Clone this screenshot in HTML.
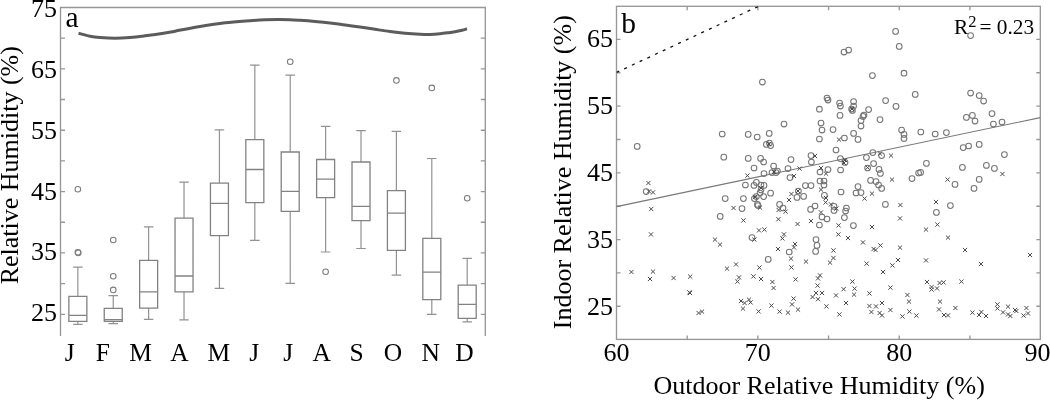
<!DOCTYPE html>
<html lang="en"><head><meta charset="utf-8"><title>Relative humidity figure</title>
<style>
html,body{margin:0;padding:0;background:#fff;}
body{width:1050px;height:401px;overflow:hidden;}
svg{display:block;font-family:"Liberation Serif", "Times New Roman", serif;fill:#000;}
</style></head><body>
<svg width="1050" height="401" viewBox="0 0 1050 401">
<rect width="1050" height="401" fill="#fff" stroke="none"/>
<g fill="none" stroke="#979797" stroke-width="1.35">
<path d="M60.5,336.0 V7.5 H485.3 V336.0"/>
<path d="M60.5,314.30h4.5M485.3,314.30h-4.5M60.5,283.62h4.5M485.3,283.62h-4.5M60.5,252.94h4.5M485.3,252.94h-4.5M60.5,222.26h4.5M485.3,222.26h-4.5M60.5,191.58h4.5M485.3,191.58h-4.5M60.5,160.90h4.5M485.3,160.90h-4.5M60.5,130.22h4.5M485.3,130.22h-4.5M60.5,99.54h4.5M485.3,99.54h-4.5M60.5,68.86h4.5M485.3,68.86h-4.5M60.5,38.18h4.5M485.3,38.18h-4.5"/>
</g>
<g font-size="26" text-anchor="end" fill="#000">
<text x="57" y="321.10">25</text>
<text x="57" y="260.36">35</text>
<text x="57" y="199.62">45</text>
<text x="57" y="138.88">55</text>
<text x="57" y="78.14">65</text>
<text x="57" y="17.40">75</text>
</g>
<text font-size="26" text-anchor="middle" transform="translate(18.3,165.2) rotate(-90)">Relative Humidity (%)</text>
<text font-size="29.5" x="65.6" y="26.5">a</text>
<g font-size="25.5" text-anchor="middle">
<text x="69.8" y="361">J</text>
<text x="102.8" y="361">F</text>
<text x="140.6" y="361">M</text>
<text x="179.5" y="361">A</text>
<text x="218.8" y="361">M</text>
<text x="254.2" y="361">J</text>
<text x="288.3" y="361">J</text>
<text x="321.8" y="361">A</text>
<text x="356.5" y="361">S</text>
<text x="392.9" y="361">O</text>
<text x="430.6" y="361">N</text>
<text x="464.5" y="361">D</text>
</g>
<path d="M78.5,33.2C80.42,33.70 86.42,35.48 90,36.2C93.58,36.92 95.83,37.17 100,37.5C104.17,37.83 110.00,38.20 115,38.2C120.00,38.20 125.00,37.90 130,37.5C135.00,37.10 139.17,36.55 145,35.8C150.83,35.05 160.00,33.77 165,33.0C170.00,32.23 169.17,32.28 175,31.2C180.83,30.12 191.67,27.90 200,26.5C208.33,25.10 216.67,23.77 225,22.8C233.33,21.83 243.33,21.20 250,20.7C256.67,20.20 260.33,20.00 265,19.8C269.67,19.60 273.83,19.52 278,19.5C282.17,19.48 286.33,19.57 290,19.7C293.67,19.83 295.83,20.00 300,20.3C304.17,20.60 310.00,21.05 315,21.5C320.00,21.95 325.00,22.42 330,23C335.00,23.58 340.00,24.33 345,25C350.00,25.67 355.00,26.28 360,27C365.00,27.72 370.00,28.55 375,29.3C380.00,30.05 385.00,30.85 390,31.5C395.00,32.15 400.00,32.75 405,33.2C410.00,33.65 415.83,34.00 420,34.2C424.17,34.40 426.67,34.48 430,34.4C433.33,34.32 436.67,34.03 440,33.7C443.33,33.37 447.50,32.73 450,32.4C452.50,32.07 453.00,32.07 455,31.7C457.00,31.33 460.00,30.68 462,30.2C464.00,29.72 466.17,29.03 467,28.8" fill="none" stroke="#5c5c5c" stroke-width="3.0" stroke-linecap="butt"/>
<g fill="none">
<path stroke="#929292" stroke-width="1.2" d="M77.85,296.4V267.2M73.10,267.2h9.5M77.85,321.3V324.3M73.10,324.3h9.5M113.25,308.3V295.7M108.50,295.7h9.5M113.25,321.3V323.6M108.50,323.6h9.5M148.64,260.3V226.8M143.89,226.8h9.5M148.64,308.1V319.3M143.89,319.3h9.5M184.03,218.1V182.2M179.28,182.2h9.5M184.03,291.9V319.8M179.28,319.8h9.5M219.43,183.2V129.8M214.68,129.8h9.5M219.43,235.6V288.4M214.68,288.4h9.5M254.83,139.7V65.2M250.08,65.2h9.5M254.83,202.6V240.3M250.08,240.3h9.5M290.22,152.0V75.2M285.47,75.2h9.5M290.22,211.3V283.3M285.47,283.3h9.5M325.62,159.5V126.3M320.87,126.3h9.5M325.62,197.7V252.0M320.87,252.0h9.5M361.01,162.0V130.6M356.26,130.6h9.5M361.01,220.6V248.5M356.26,248.5h9.5M396.40,190.7V131.3M391.65,131.3h9.5M396.40,250.3V275.2M391.65,275.2h9.5M431.80,238.3V158.5M427.05,158.5h9.5M431.80,299.7V314.4M427.05,314.4h9.5M467.20,285.2V258.3M462.45,258.3h9.5M467.20,318.4V321.8M462.45,321.8h9.5"/>
<path stroke="#828282" stroke-width="1.3" d="M68.85,296.4H86.85V321.3H68.85ZM68.85,315.3H86.85M104.25,308.3H122.25V321.3H104.25ZM104.25,319.6H122.25M139.64,260.3H157.64V308.1H139.64ZM139.64,291.9H157.64M175.03,218.1H193.03V291.9H175.03ZM175.03,276.0H193.03M210.43,183.2H228.43V235.6H210.43ZM210.43,203.4H228.43M245.83,139.7H263.83V202.6H245.83ZM245.83,169.5H263.83M281.22,152.0H299.22V211.3H281.22ZM281.22,191.4H299.22M316.62,159.5H334.62V197.7H316.62ZM316.62,179.1H334.62M352.01,162.0H370.01V220.6H352.01ZM352.01,206.4H370.01M387.40,190.7H405.40V250.3H387.40ZM387.40,213.1H405.40M422.80,238.3H440.80V299.7H422.80ZM422.80,272.2H440.80M458.20,285.2H476.20V318.4H458.20ZM458.20,304.4H476.20"/>
<g stroke="#7c7c7c" stroke-width="1.05"><circle cx="77.85" cy="252.3" r="2.8"/><circle cx="78.25" cy="252.9" r="2.8"/><circle cx="77.85" cy="189.2" r="2.8"/><circle cx="113.25" cy="276.2" r="2.8"/><circle cx="113.25" cy="289.9" r="2.8"/><circle cx="113.25" cy="240.0" r="2.8"/><circle cx="290.22" cy="61.7" r="2.8"/><circle cx="325.62" cy="271.7" r="2.8"/><circle cx="396.40" cy="80.4" r="2.8"/><circle cx="431.80" cy="87.9" r="2.8"/><circle cx="467.20" cy="198.2" r="2.8"/></g>
</g>
<g fill="none" stroke="#979797" stroke-width="1.35">
<rect x="616.5" y="6.3" width="423.80" height="333.10"/>
<path d="M687.18,339.4v-4M687.18,6.3v4M757.87,339.4v-4M757.87,6.3v4M828.56,339.4v-4M828.56,6.3v4M899.24,339.4v-4M899.24,6.3v4M969.92,339.4v-4M969.92,6.3v4M616.5,306.28h4M1040.3,306.28h-4M616.5,272.92h4M1040.3,272.92h-4M616.5,239.56h4M1040.3,239.56h-4M616.5,206.20h4M1040.3,206.20h-4M616.5,172.84h4M1040.3,172.84h-4M616.5,139.48h4M1040.3,139.48h-4M616.5,106.12h4M1040.3,106.12h-4M616.5,72.76h4M1040.3,72.76h-4M616.5,39.40h4M1040.3,39.40h-4"/>
</g>
<g font-size="26" text-anchor="end">
<text x="613" y="315.40">25</text>
<text x="613" y="248.30">35</text>
<text x="613" y="181.20">45</text>
<text x="613" y="114.10">55</text>
<text x="613" y="47.00">65</text>
</g>
<g font-size="26" text-anchor="middle">
<text x="616.50" y="361">60</text>
<text x="757.87" y="361">70</text>
<text x="899.24" y="361">80</text>
<text x="1037.61" y="361">90</text>
</g>
<text font-size="26" text-anchor="middle" transform="translate(570.6,172.2) rotate(-90)">Indoor Relative Humidity (%)</text>
<text font-size="26" text-anchor="middle" x="819.1" y="394.3">Outdoor Relative Humidity (%)</text>
<text font-size="29.5" x="621.2" y="33">b</text>
<text font-size="21.3" x="954" y="34.4">R<tspan font-size="16.5" dy="-7.7">2</tspan><tspan dy="7.7" dx="-2.3"> = 0.23</tspan></text>
<clipPath id="cb"><rect x="616.5" y="6.3" width="423.80" height="333.10"/></clipPath>
<path d="M616.5,206.6L1040.3,117.6" stroke="#777" stroke-width="1.1" fill="none"/>
<path d="M616.5,72.4L757.9,6.6" stroke="#111" stroke-width="1.3" stroke-dasharray="3 5.5" fill="none" clip-path="url(#cb)"/>
<g fill="none" stroke="#757575" stroke-width="1.05">
<circle cx="895.6" cy="31.4" r="2.85"/><circle cx="899.2" cy="46.4" r="2.85"/><circle cx="848.6" cy="50.0" r="2.85"/><circle cx="844.0" cy="52.0" r="2.85"/><circle cx="872.4" cy="75.6" r="2.85"/><circle cx="904.0" cy="73.2" r="2.85"/><circle cx="970.6" cy="35.6" r="2.85"/><circle cx="762.4" cy="82.0" r="2.85"/><circle cx="819.4" cy="109.2" r="2.85"/><circle cx="784.0" cy="124.0" r="2.85"/><circle cx="821.0" cy="123.0" r="2.85"/><circle cx="822.0" cy="130.0" r="2.85"/><circle cx="819.4" cy="139.0" r="2.85"/><circle cx="722.2" cy="134.0" r="2.85"/><circle cx="748.2" cy="134.4" r="2.85"/><circle cx="757.2" cy="137.0" r="2.85"/><circle cx="769.2" cy="133.4" r="2.85"/><circle cx="766.4" cy="144.4" r="2.85"/><circle cx="769.4" cy="143.0" r="2.85"/><circle cx="770.6" cy="145.6" r="2.85"/><circle cx="637.2" cy="146.4" r="2.85"/><circle cx="723.8" cy="157.2" r="2.85"/><circle cx="748.2" cy="158.4" r="2.85"/><circle cx="760.6" cy="158.4" r="2.85"/><circle cx="791.0" cy="159.6" r="2.85"/><circle cx="811.0" cy="155.6" r="2.85"/><circle cx="827.0" cy="98.0" r="2.85"/><circle cx="828.0" cy="100.0" r="2.85"/><circle cx="839.6" cy="103.0" r="2.85"/><circle cx="840.4" cy="106.0" r="2.85"/><circle cx="853.6" cy="101.6" r="2.85"/><circle cx="853.6" cy="106.0" r="2.85"/><circle cx="851.6" cy="109.0" r="2.85"/><circle cx="852.4" cy="110.4" r="2.85"/><circle cx="840.0" cy="115.4" r="2.85"/><circle cx="864.0" cy="115.0" r="2.85"/><circle cx="863.0" cy="116.4" r="2.85"/><circle cx="868.6" cy="109.6" r="2.85"/><circle cx="861.0" cy="120.6" r="2.85"/><circle cx="861.0" cy="126.0" r="2.85"/><circle cx="885.6" cy="100.6" r="2.85"/><circle cx="896.0" cy="106.4" r="2.85"/><circle cx="880.0" cy="119.6" r="2.85"/><circle cx="915.2" cy="94.4" r="2.85"/><circle cx="833.0" cy="129.6" r="2.85"/><circle cx="844.4" cy="138.0" r="2.85"/><circle cx="853.6" cy="133.4" r="2.85"/><circle cx="858.0" cy="139.4" r="2.85"/><circle cx="836.0" cy="150.0" r="2.85"/><circle cx="840.4" cy="158.6" r="2.85"/><circle cx="866.4" cy="157.6" r="2.85"/><circle cx="872.8" cy="152.6" r="2.85"/><circle cx="881.6" cy="155.6" r="2.85"/><circle cx="901.6" cy="130.0" r="2.85"/><circle cx="904.0" cy="134.4" r="2.85"/><circle cx="904.0" cy="138.4" r="2.85"/><circle cx="920.8" cy="132.0" r="2.85"/><circle cx="935.2" cy="134.0" r="2.85"/><circle cx="946.4" cy="132.6" r="2.85"/><circle cx="970.6" cy="93.0" r="2.85"/><circle cx="979.2" cy="95.6" r="2.85"/><circle cx="983.6" cy="101.0" r="2.85"/><circle cx="966.4" cy="117.4" r="2.85"/><circle cx="972.4" cy="115.4" r="2.85"/><circle cx="975.0" cy="121.0" r="2.85"/><circle cx="992.0" cy="113.6" r="2.85"/><circle cx="993.4" cy="124.0" r="2.85"/><circle cx="1002.0" cy="122.0" r="2.85"/><circle cx="963.2" cy="147.6" r="2.85"/><circle cx="968.6" cy="146.0" r="2.85"/><circle cx="979.2" cy="144.4" r="2.85"/><circle cx="1004.4" cy="154.6" r="2.85"/><circle cx="646.2" cy="191.6" r="2.85"/><circle cx="725.2" cy="198.6" r="2.85"/><circle cx="720.2" cy="216.4" r="2.85"/><circle cx="742.0" cy="208.6" r="2.85"/><circle cx="743.4" cy="198.6" r="2.85"/><circle cx="745.4" cy="185.0" r="2.85"/><circle cx="754.0" cy="168.0" r="2.85"/><circle cx="754.0" cy="185.4" r="2.85"/><circle cx="756.4" cy="182.4" r="2.85"/><circle cx="761.0" cy="185.0" r="2.85"/><circle cx="764.0" cy="185.4" r="2.85"/><circle cx="761.0" cy="190.0" r="2.85"/><circle cx="760.0" cy="193.0" r="2.85"/><circle cx="756.4" cy="196.6" r="2.85"/><circle cx="754.4" cy="198.6" r="2.85"/><circle cx="763.6" cy="196.6" r="2.85"/><circle cx="757.4" cy="204.4" r="2.85"/><circle cx="758.0" cy="205.6" r="2.85"/><circle cx="770.6" cy="193.2" r="2.85"/><circle cx="764.0" cy="173.6" r="2.85"/><circle cx="763.6" cy="162.0" r="2.85"/><circle cx="772.0" cy="172.6" r="2.85"/><circle cx="776.0" cy="172.6" r="2.85"/><circle cx="777.4" cy="171.0" r="2.85"/><circle cx="773.6" cy="166.0" r="2.85"/><circle cx="788.0" cy="168.6" r="2.85"/><circle cx="790.0" cy="177.6" r="2.85"/><circle cx="811.4" cy="162.0" r="2.85"/><circle cx="820.0" cy="172.0" r="2.85"/><circle cx="820.0" cy="181.0" r="2.85"/><circle cx="805.4" cy="185.6" r="2.85"/><circle cx="811.0" cy="185.6" r="2.85"/><circle cx="798.4" cy="191.0" r="2.85"/><circle cx="797.0" cy="197.4" r="2.85"/><circle cx="803.6" cy="196.4" r="2.85"/><circle cx="779.6" cy="204.4" r="2.85"/><circle cx="783.0" cy="208.0" r="2.85"/><circle cx="815.0" cy="206.0" r="2.85"/><circle cx="810.6" cy="209.4" r="2.85"/><circle cx="822.0" cy="217.0" r="2.85"/><circle cx="819.4" cy="225.0" r="2.85"/><circle cx="752.0" cy="237.6" r="2.85"/><circle cx="816.0" cy="239.6" r="2.85"/><circle cx="828.0" cy="169.6" r="2.85"/><circle cx="840.6" cy="170.0" r="2.85"/><circle cx="845.0" cy="162.4" r="2.85"/><circle cx="867.6" cy="168.0" r="2.85"/><circle cx="873.6" cy="163.6" r="2.85"/><circle cx="879.0" cy="169.4" r="2.85"/><circle cx="880.4" cy="173.4" r="2.85"/><circle cx="870.6" cy="180.4" r="2.85"/><circle cx="876.0" cy="181.6" r="2.85"/><circle cx="878.6" cy="185.0" r="2.85"/><circle cx="881.6" cy="188.4" r="2.85"/><circle cx="858.0" cy="186.6" r="2.85"/><circle cx="856.0" cy="193.0" r="2.85"/><circle cx="861.0" cy="192.6" r="2.85"/><circle cx="841.0" cy="192.0" r="2.85"/><circle cx="824.0" cy="181.0" r="2.85"/><circle cx="824.0" cy="185.0" r="2.85"/><circle cx="824.4" cy="195.4" r="2.85"/><circle cx="885.4" cy="204.4" r="2.85"/><circle cx="834.0" cy="206.4" r="2.85"/><circle cx="834.0" cy="210.4" r="2.85"/><circle cx="846.4" cy="208.0" r="2.85"/><circle cx="845.6" cy="211.0" r="2.85"/><circle cx="844.4" cy="217.6" r="2.85"/><circle cx="827.0" cy="219.0" r="2.85"/><circle cx="853.4" cy="225.6" r="2.85"/><circle cx="912.0" cy="178.6" r="2.85"/><circle cx="918.6" cy="173.0" r="2.85"/><circle cx="920.6" cy="172.4" r="2.85"/><circle cx="926.4" cy="163.4" r="2.85"/><circle cx="936.4" cy="212.4" r="2.85"/><circle cx="950.4" cy="205.6" r="2.85"/><circle cx="955.0" cy="184.4" r="2.85"/><circle cx="962.4" cy="167.4" r="2.85"/><circle cx="974.0" cy="188.4" r="2.85"/><circle cx="979.2" cy="179.4" r="2.85"/><circle cx="986.4" cy="165.4" r="2.85"/><circle cx="994.4" cy="168.4" r="2.85"/><circle cx="768.2" cy="259.4" r="2.85"/><circle cx="789.2" cy="252.0" r="2.85"/><circle cx="815.6" cy="251.4" r="2.85"/><circle cx="817.0" cy="245.4" r="2.85"/>
</g>
<path fill="none" stroke="#4c4c4c" stroke-width="1" d="M812.9,153.9l4.2,4.2m0,-4.2l-4.2,4.2M766.9,141.9l4.2,4.2m0,-4.2l-4.2,4.2M836.9,137.5l4.2,4.2m0,-4.2l-4.2,4.2M849.9,106.9l4.2,4.2m0,-4.2l-4.2,4.2M877.9,151.5l4.2,4.2m0,-4.2l-4.2,4.2M888.9,153.5l4.2,4.2m0,-4.2l-4.2,4.2M842.9,157.9l4.2,4.2m0,-4.2l-4.2,4.2M646.3,180.9l4.2,4.2m0,-4.2l-4.2,4.2M646.9,189.3l4.2,4.2m0,-4.2l-4.2,4.2M650.9,190.3l4.2,4.2m0,-4.2l-4.2,4.2M649.1,206.9l4.2,4.2m0,-4.2l-4.2,4.2M648.9,232.3l4.2,4.2m0,-4.2l-4.2,4.2M745.3,173.5l4.2,4.2m0,-4.2l-4.2,4.2M731.5,205.9l4.2,4.2m0,-4.2l-4.2,4.2M741.3,218.3l4.2,4.2m0,-4.2l-4.2,4.2M757.9,205.5l4.2,4.2m0,-4.2l-4.2,4.2M756.9,228.3l4.2,4.2m0,-4.2l-4.2,4.2M762.3,227.5l4.2,4.2m0,-4.2l-4.2,4.2M712.9,237.5l4.2,4.2m0,-4.2l-4.2,4.2M776.5,207.9l4.2,4.2m0,-4.2l-4.2,4.2M783.5,209.5l4.2,4.2m0,-4.2l-4.2,4.2M776.3,217.1l4.2,4.2m0,-4.2l-4.2,4.2M786.9,197.9l4.2,4.2m0,-4.2l-4.2,4.2M789.3,191.9l4.2,4.2m0,-4.2l-4.2,4.2M791.9,173.9l4.2,4.2m0,-4.2l-4.2,4.2M797.5,166.5l4.2,4.2m0,-4.2l-4.2,4.2M795.9,188.9l4.2,4.2m0,-4.2l-4.2,4.2M795.5,221.9l4.2,4.2m0,-4.2l-4.2,4.2M808.9,218.9l4.2,4.2m0,-4.2l-4.2,4.2M781.9,232.3l4.2,4.2m0,-4.2l-4.2,4.2M780.3,236.3l4.2,4.2m0,-4.2l-4.2,4.2M818.9,187.5l4.2,4.2m0,-4.2l-4.2,4.2M818.9,210.3l4.2,4.2m0,-4.2l-4.2,4.2M818.9,165.9l4.2,4.2m0,-4.2l-4.2,4.2M758.9,185.9l4.2,4.2m0,-4.2l-4.2,4.2M752.9,194.9l4.2,4.2m0,-4.2l-4.2,4.2M771.9,169.9l4.2,4.2m0,-4.2l-4.2,4.2M823.9,171.5l4.2,4.2m0,-4.2l-4.2,4.2M841.9,160.9l4.2,4.2m0,-4.2l-4.2,4.2M865.5,165.5l4.2,4.2m0,-4.2l-4.2,4.2M889.9,177.5l4.2,4.2m0,-4.2l-4.2,4.2M869.9,191.5l4.2,4.2m0,-4.2l-4.2,4.2M862.5,196.5l4.2,4.2m0,-4.2l-4.2,4.2M823.9,195.9l4.2,4.2m0,-4.2l-4.2,4.2M823.5,200.3l4.2,4.2m0,-4.2l-4.2,4.2M828.9,202.3l4.2,4.2m0,-4.2l-4.2,4.2M834.3,206.5l4.2,4.2m0,-4.2l-4.2,4.2M898.3,202.9l4.2,4.2m0,-4.2l-4.2,4.2M897.9,216.3l4.2,4.2m0,-4.2l-4.2,4.2M836.5,223.3l4.2,4.2m0,-4.2l-4.2,4.2M836.3,232.3l4.2,4.2m0,-4.2l-4.2,4.2M845.9,235.9l4.2,4.2m0,-4.2l-4.2,4.2M869.9,224.9l4.2,4.2m0,-4.2l-4.2,4.2M923.9,227.5l4.2,4.2m0,-4.2l-4.2,4.2M935.3,222.5l4.2,4.2m0,-4.2l-4.2,4.2M933.9,199.9l4.2,4.2m0,-4.2l-4.2,4.2M945.5,177.5l4.2,4.2m0,-4.2l-4.2,4.2M945.9,235.5l4.2,4.2m0,-4.2l-4.2,4.2M1000.3,171.9l4.2,4.2m0,-4.2l-4.2,4.2M752.3,237.5l4.2,4.2m0,-4.2l-4.2,4.2M717.9,242.5l4.2,4.2m0,-4.2l-4.2,4.2M629.3,269.9l4.2,4.2m0,-4.2l-4.2,4.2M650.9,269.5l4.2,4.2m0,-4.2l-4.2,4.2M647.9,276.9l4.2,4.2m0,-4.2l-4.2,4.2M671.5,275.9l4.2,4.2m0,-4.2l-4.2,4.2M688.1,274.5l4.2,4.2m0,-4.2l-4.2,4.2M687.3,290.3l4.2,4.2m0,-4.2l-4.2,4.2M687.9,290.9l4.2,4.2m0,-4.2l-4.2,4.2M696.5,310.9l4.2,4.2m0,-4.2l-4.2,4.2M699.9,309.5l4.2,4.2m0,-4.2l-4.2,4.2M724.9,266.5l4.2,4.2m0,-4.2l-4.2,4.2M733.9,262.3l4.2,4.2m0,-4.2l-4.2,4.2M736.9,275.3l4.2,4.2m0,-4.2l-4.2,4.2M735.3,279.5l4.2,4.2m0,-4.2l-4.2,4.2M751.3,274.3l4.2,4.2m0,-4.2l-4.2,4.2M757.3,265.5l4.2,4.2m0,-4.2l-4.2,4.2M758.9,276.9l4.2,4.2m0,-4.2l-4.2,4.2M738.9,298.9l4.2,4.2m0,-4.2l-4.2,4.2M742.5,300.9l4.2,4.2m0,-4.2l-4.2,4.2M746.9,297.5l4.2,4.2m0,-4.2l-4.2,4.2M748.5,300.3l4.2,4.2m0,-4.2l-4.2,4.2M740.9,306.5l4.2,4.2m0,-4.2l-4.2,4.2M756.5,309.3l4.2,4.2m0,-4.2l-4.2,4.2M769.3,303.5l4.2,4.2m0,-4.2l-4.2,4.2M770.3,279.9l4.2,4.2m0,-4.2l-4.2,4.2M771.5,285.9l4.2,4.2m0,-4.2l-4.2,4.2M777.5,309.5l4.2,4.2m0,-4.2l-4.2,4.2M785.9,310.5l4.2,4.2m0,-4.2l-4.2,4.2M789.9,302.3l4.2,4.2m0,-4.2l-4.2,4.2M791.5,296.5l4.2,4.2m0,-4.2l-4.2,4.2M795.9,307.5l4.2,4.2m0,-4.2l-4.2,4.2M793.5,277.3l4.2,4.2m0,-4.2l-4.2,4.2M789.3,265.3l4.2,4.2m0,-4.2l-4.2,4.2M788.9,256.5l4.2,4.2m0,-4.2l-4.2,4.2M775.9,246.9l4.2,4.2m0,-4.2l-4.2,4.2M792.9,241.9l4.2,4.2m0,-4.2l-4.2,4.2M791.9,245.3l4.2,4.2m0,-4.2l-4.2,4.2M803.9,259.5l4.2,4.2m0,-4.2l-4.2,4.2M815.9,276.3l4.2,4.2m0,-4.2l-4.2,4.2M817.9,273.3l4.2,4.2m0,-4.2l-4.2,4.2M815.5,283.5l4.2,4.2m0,-4.2l-4.2,4.2M813.9,290.9l4.2,4.2m0,-4.2l-4.2,4.2M810.5,294.9l4.2,4.2m0,-4.2l-4.2,4.2M815.9,297.1l4.2,4.2m0,-4.2l-4.2,4.2M819.9,290.9l4.2,4.2m0,-4.2l-4.2,4.2M860.9,240.3l4.2,4.2m0,-4.2l-4.2,4.2M831.3,248.3l4.2,4.2m0,-4.2l-4.2,4.2M831.3,255.9l4.2,4.2m0,-4.2l-4.2,4.2M827.9,260.5l4.2,4.2m0,-4.2l-4.2,4.2M871.5,246.9l4.2,4.2m0,-4.2l-4.2,4.2M873.5,247.9l4.2,4.2m0,-4.2l-4.2,4.2M878.3,243.3l4.2,4.2m0,-4.2l-4.2,4.2M897.9,245.5l4.2,4.2m0,-4.2l-4.2,4.2M864.5,261.5l4.2,4.2m0,-4.2l-4.2,4.2M895.9,257.9l4.2,4.2m0,-4.2l-4.2,4.2M890.3,263.3l4.2,4.2m0,-4.2l-4.2,4.2M880.9,269.9l4.2,4.2m0,-4.2l-4.2,4.2M923.9,258.3l4.2,4.2m0,-4.2l-4.2,4.2M962.9,247.9l4.2,4.2m0,-4.2l-4.2,4.2M978.9,261.9l4.2,4.2m0,-4.2l-4.2,4.2M1027.9,252.9l4.2,4.2m0,-4.2l-4.2,4.2M850.3,279.5l4.2,4.2m0,-4.2l-4.2,4.2M841.5,287.1l4.2,4.2m0,-4.2l-4.2,4.2M852.5,286.5l4.2,4.2m0,-4.2l-4.2,4.2M851.9,292.5l4.2,4.2m0,-4.2l-4.2,4.2M833.9,293.3l4.2,4.2m0,-4.2l-4.2,4.2M824.3,304.3l4.2,4.2m0,-4.2l-4.2,4.2M843.9,300.9l4.2,4.2m0,-4.2l-4.2,4.2M837.3,312.3l4.2,4.2m0,-4.2l-4.2,4.2M867.3,291.3l4.2,4.2m0,-4.2l-4.2,4.2M888.3,285.5l4.2,4.2m0,-4.2l-4.2,4.2M867.3,303.9l4.2,4.2m0,-4.2l-4.2,4.2M873.9,304.3l4.2,4.2m0,-4.2l-4.2,4.2M879.9,300.9l4.2,4.2m0,-4.2l-4.2,4.2M869.3,309.9l4.2,4.2m0,-4.2l-4.2,4.2M877.5,310.9l4.2,4.2m0,-4.2l-4.2,4.2M879.9,313.3l4.2,4.2m0,-4.2l-4.2,4.2M888.3,307.9l4.2,4.2m0,-4.2l-4.2,4.2M900.3,314.3l4.2,4.2m0,-4.2l-4.2,4.2M905.3,292.9l4.2,4.2m0,-4.2l-4.2,4.2M906.9,299.5l4.2,4.2m0,-4.2l-4.2,4.2M907.3,309.5l4.2,4.2m0,-4.2l-4.2,4.2M914.3,313.5l4.2,4.2m0,-4.2l-4.2,4.2M924.9,279.9l4.2,4.2m0,-4.2l-4.2,4.2M929.5,284.9l4.2,4.2m0,-4.2l-4.2,4.2M929.5,287.5l4.2,4.2m0,-4.2l-4.2,4.2M934.9,286.3l4.2,4.2m0,-4.2l-4.2,4.2M937.5,280.9l4.2,4.2m0,-4.2l-4.2,4.2M941.5,280.3l4.2,4.2m0,-4.2l-4.2,4.2M959.3,279.5l4.2,4.2m0,-4.2l-4.2,4.2M937.9,299.5l4.2,4.2m0,-4.2l-4.2,4.2M936.9,307.3l4.2,4.2m0,-4.2l-4.2,4.2M941.9,312.9l4.2,4.2m0,-4.2l-4.2,4.2M945.9,313.3l4.2,4.2m0,-4.2l-4.2,4.2M953.3,305.9l4.2,4.2m0,-4.2l-4.2,4.2M970.3,310.5l4.2,4.2m0,-4.2l-4.2,4.2M976.9,312.9l4.2,4.2m0,-4.2l-4.2,4.2M979.3,309.9l4.2,4.2m0,-4.2l-4.2,4.2M983.9,313.9l4.2,4.2m0,-4.2l-4.2,4.2M995.3,302.3l4.2,4.2m0,-4.2l-4.2,4.2M995.3,306.3l4.2,4.2m0,-4.2l-4.2,4.2M1000.9,310.3l4.2,4.2m0,-4.2l-4.2,4.2M1005.9,304.5l4.2,4.2m0,-4.2l-4.2,4.2M1005.9,312.3l4.2,4.2m0,-4.2l-4.2,4.2M1008.3,313.9l4.2,4.2m0,-4.2l-4.2,4.2M1012.9,307.9l4.2,4.2m0,-4.2l-4.2,4.2M1014.3,308.9l4.2,4.2m0,-4.2l-4.2,4.2M1024.3,305.9l4.2,4.2m0,-4.2l-4.2,4.2M1025.9,311.3l4.2,4.2m0,-4.2l-4.2,4.2M1021.5,313.5l4.2,4.2m0,-4.2l-4.2,4.2"/>
</svg>
</body></html>
